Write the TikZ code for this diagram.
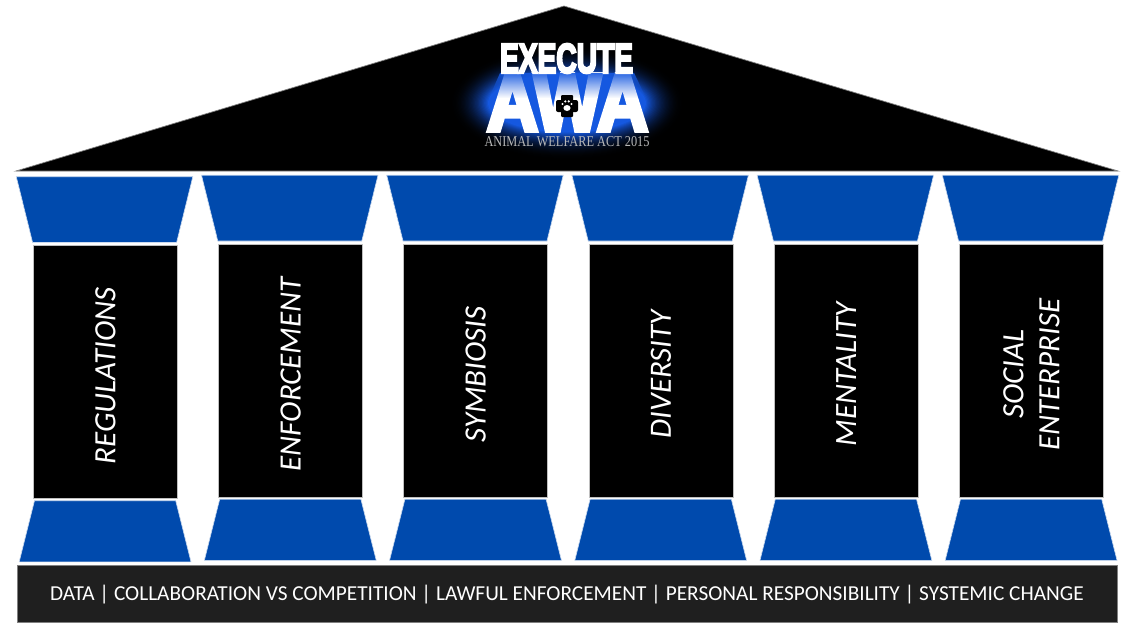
\documentclass[tikz,border=0pt]{standalone}
\usepackage{fontspec}
\usepackage{graphicx}
\usetikzlibrary{fadings}
\setmainfont{Carlito}
\newfontfamily\logobold[FakeBold=6]{Liberation Sans Bold}
\newfontfamily\subfont{Liberation Serif}
\definecolor{pillarblue}{HTML}{004AAD}
\definecolor{basegray}{HTML}{1F1F1F}
\definecolor{edgegray}{HTML}{BFBFBF}
\definecolor{glowblue}{HTML}{1558E0}
\tikzset{
  capital/.style={fill=pillarblue,draw=white!80!pillarblue,line width=.6pt},
  shaft/.style={fill=black,draw=edgegray,line width=.7pt,minimum width=144pt,anchor=north west,inner sep=0pt},
  shafttext/.style={rotate=90,text=white,font=\fontsize{31}{36}\selectfont\itshape,align=center},
  basebar/.style={fill=basegray,draw=gray,line width=.8pt},
  basetext/.style={text=white,font=\fontsize{21.3}{24}\selectfont},
  logoa/.style={text=white,inner sep=0pt}
}
\tikzfading[name=fadedown,top color=transparent!10,bottom color=transparent!100]
\begin{document}
\begin{tikzpicture}[x=1pt,y=-1pt]
\useasboundingbox[fill=white] (0,0) rectangle (1132,627);
% roof
\fill[black] (564,6) coordinate (apex) -- (1118,171) coordinate (eaveR) -- (16,171) coordinate (eaveL) -- cycle;
\draw[gray,line width=.7pt] (eaveL) -- (apex) -- (eaveR) -- cycle;
% glow
\foreach \t in {0,1,...,30}{
  \pgfmathsetmacro{\pct}{100*(\t/30)^2.2}
  \fill[glowblue!\pct!black] (567,103) ellipse [x radius=118-1.3*\t,y radius=58-0.95*\t];
}
% logo
\node[logoa] (awa) at (567.5,102.5) {\resizebox{161pt}{56pt}{\logobold AWA}};
\fill[glowblue,path fading=fadedown] (500,73) -- (634,73) -- (646,98) -- (489,98) -- cycle;
\node[logoa] (execute) at (566.5,58.5) {\resizebox{133pt}{29pt}{\logobold EXECUTE}};
\node[text=white!72!black,inner sep=0pt] (act) at (567,142) {\resizebox{165pt}{10pt}{\subfont ANIMAL WELFARE ACT 2015}};
% paw emblem
\fill[black,rounded corners=1pt] (561,95) rectangle (573,117);
\fill[black,rounded corners=2pt] (556,100) rectangle (578,112);
\fill[white] (567,108) ellipse [x radius=3.6,y radius=3];
\foreach \dx/\dy in {-4.5/-2,-1.7/-4.6,1.7/-4.6,4.5/-2}{
  \fill[white] (567+\dx,106+\dy) circle (1.2);
}
% pillars
\foreach \i/\ox/\oy/\lab in {
  1/0/0/REGULATIONS,
  2/185.2/-1.5/ENFORCEMENT,
  3/370.4/-1.5/SYMBIOSIS,
  4/555.6/-1.5/DIVERSITY,
  5/740.8/-1.5/MENTALITY,
  6/926/-1.5/{SOCIAL\\ENTERPRISE}}{
  \begin{scope}[shift={(\ox,\oy)}]
    \draw[capital] (16.3,176.7) -- (192.8,176.7) -- (176.6,242.5) -- (32.6,242.5) -- cycle;
    \node[shaft,minimum height=253pt] (shaft\i) at (33,245) {};
    \node[shafttext] (label\i) at ([yshift=-4pt]shaft\i.center) {\lab};
    \draw[capital] (34.5,500.7) -- (175.7,500.7) -- (191,561.8) -- (19.2,561.8) -- cycle;
  \end{scope}
}
% base
\node[basebar,minimum width=1100pt,minimum height=57pt,inner sep=0pt] (stylobate) at (567,593.5) {};
\node[basetext] (basecaption) at (567,594.5) {DATA | COLLABORATION VS COMPETITION | LAWFUL ENFORCEMENT | PERSONAL RESPONSIBILITY | SYSTEMIC CHANGE};
\end{tikzpicture}
\end{document}
